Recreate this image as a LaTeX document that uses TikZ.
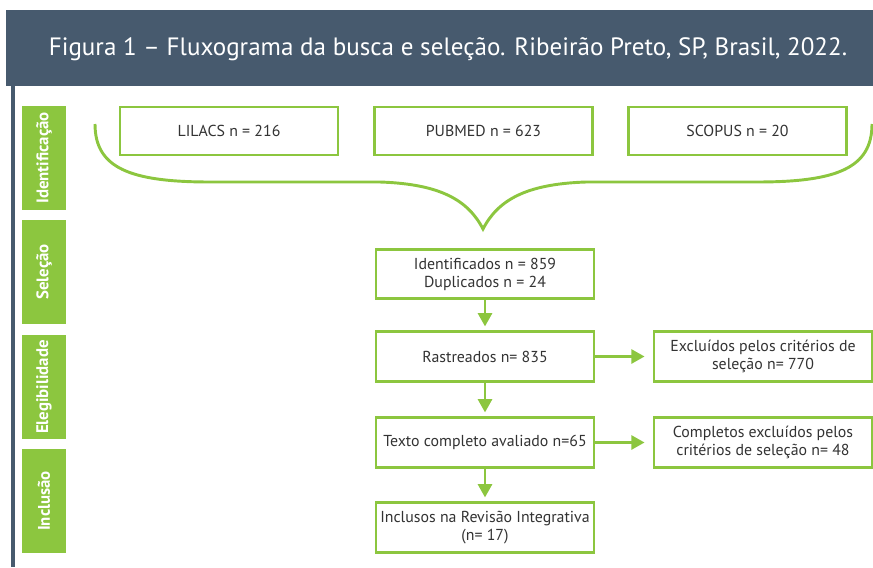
\documentclass[tikz,border=0pt]{standalone}
\usepackage{fontspec}
\setmainfont{PT Sans}
\usetikzlibrary{arrows.meta}
\definecolor{fluxgreen}{HTML}{8CC63F}
\definecolor{fluxslate}{HTML}{475A6E}
\definecolor{fluxtext}{HTML}{333333}
\begin{document}
\begin{tikzpicture}[x=0.75pt, y=-0.75pt,
	box/.style={draw=fluxgreen, line width=2.1pt, fill=white, text=fluxtext,
		minimum width=163.5pt, minimum height=37pt, inner sep=2pt, align=center,
		font=\fontsize{11.9}{13.5}\selectfont},
	stage/.style={fill=fluxgreen, text=white, minimum width=78pt, minimum height=33pt,
		inner sep=0pt, rotate=90, font=\bfseries\fontsize{12.6}{14}\selectfont},
	flow/.style={draw=fluxgreen, line width=2.2pt, -{Triangle[width=10.5pt,length=10pt]}}]
	
	\useasboundingbox (0,0) rectangle (873,567);
	
	% draw header and side rule
	\fill[fluxslate] (6,10) rectangle (873,86);
	\node[text=white, font=\fontsize{18.8}{22}\selectfont] (title) at (448,49)
		{Figura 1 -- Fluxograma da busca e seleção. Ribeirão Preto, SP, Brasil, 2022.};
	\fill[fluxslate] (11,86) rectangle (15,567);
	
	% draw stages
	\node[stage] (ident) at (44,158) {Identificação};
	\node[stage] (selec) at (44,272) {Seleção};
	\node[stage] (elegi) at (44,387) {Elegibilidade};
	\node[stage] (inclu) at (44,501) {Inclusão};
	
	% draw databases
	\node[box, minimum height=36pt] (lilacs) at (229,131) {LILACS n = 216};
	\node[box, minimum height=36pt] (pubmed) at (483.5,131) {PUBMED n = 623};
	\node[box, minimum height=36pt] (scopus) at (737.5,131) {SCOPUS n = 20};
	
	% draw brace
	\draw[fluxgreen, line width=2.2pt] (95,124) .. controls (95,168) and (130,182) .. (210,182)
		-- (380,182) .. controls (440,184) and (468,200) .. (483,229)
		.. controls (498,200) and (526,184) .. (586,182) -- (757,182)
		.. controls (837,182) and (872,168) .. (872,124);
	
	% draw flow boxes
	\node[box] (identif) at (485,274) {Identificados n = 859\\Duplicados n = 24};
	\node[box] (rastr) at (485,356.5) {Rastreados n= 835};
	\node[box] (texto) at (485,442.5) {Texto completo avaliado n=65};
	\node[box] (incl) at (485,527.5) {Inclusos na Revisão Integrativa\\(n= 17)};
	\node[box] (excl1) at (763,356.5) {Excluídos pelos critérios de\\seleção n= 770};
	\node[box] (excl2) at (763,442.5) {Completos excluídos pelos\\critérios de seleção n= 48};
	
	% draw arrows
	\draw[flow, shorten >=3pt] (identif) -- (rastr);
	\draw[flow, shorten >=3pt] (rastr) -- (texto);
	\draw[flow, shorten >=3pt] (texto) -- (incl);
	\draw[flow, shorten >=6pt] (rastr) -- (excl1);
	\draw[flow, shorten >=6pt] (texto) -- (excl2);
\end{tikzpicture}
\end{document}
